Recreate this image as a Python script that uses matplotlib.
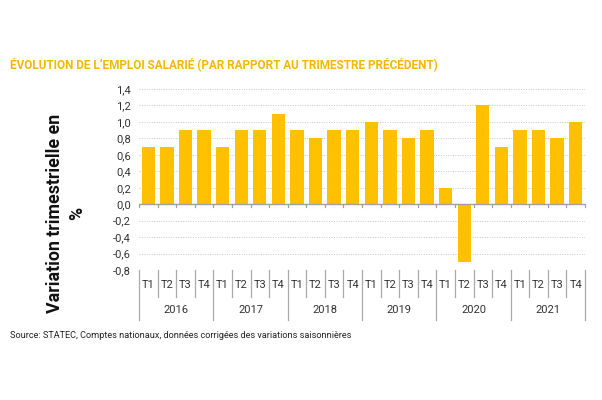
import matplotlib
matplotlib.use("Agg")
import matplotlib.pyplot as plt
import numpy as np

years = ["2016", "2017", "2018", "2019", "2020", "2021"]
quarters = ["T1", "T2", "T3", "T4"]
values = [0.7, 0.7, 0.9, 0.9,
          0.7, 0.9, 0.9, 1.1,
          0.9, 0.8, 0.9, 0.9,
          1.0, 0.9, 0.8, 0.9,
          0.2, -0.7, 1.2, 0.7,
          0.9, 0.9, 0.8, 1.0]
yticks = [-0.8, -0.6, -0.4, -0.2, 0.0, 0.2, 0.4, 0.6, 0.8, 1.0, 1.2, 1.4]

plt.rcParams['font.family'] = ['Roboto', 'DejaVu Sans']

fig = plt.figure(figsize=(6.02, 4.0), dpi=100)
ax = fig.add_axes([139/602, 1-270/400, (585-139)/602, (270-89)/400])

n = len(values)
x = np.arange(n)
ax.bar(x, values, width=0.72, color="#FFC000", zorder=3)
ax.set_xlim(-0.5, n-0.5)
ax.set_ylim(-0.8, 1.4)

for t in yticks[1:]:
    if abs(t) > 1e-9:
        ax.axhline(t, color="#C8C8C8", lw=0.7, ls=(0, (1, 1.5)), zorder=1)
ax.axhline(0, color="#A0A0A0", lw=1.0, zorder=4)
for b in np.arange(-0.5, n, 1.0):
    ax.plot([b, b], [0, -0.035], color="#A0A0A0", lw=0.9, zorder=4, clip_on=False)

for s in ax.spines.values():
    s.set_visible(False)
ax.set_xticks([])
ax.set_yticks(yticks)
ax.set_yticklabels([f"{t:.1f}".replace(".", ",").replace("-0,0", "0,0") for t in yticks],
                   fontsize=8, color="#333333")
ax.tick_params(axis="y", length=0, pad=6)

tr = ax.get_xaxis_transform()
for i, b in enumerate(np.arange(-0.5, n, 1.0)):
    bottom = -0.276 if i % 4 == 0 or i == n else -0.149
    ax.plot([b, b], [0, bottom], transform=tr, color="#AAAAAA", lw=0.9, clip_on=False)
for i in range(n):
    ax.text(i, -0.083, quarters[i % 4], transform=tr, ha="center", va="center",
            fontsize=8, color="#333333")
for j, yname in enumerate(years):
    ax.text(j*4 + 1.5, -0.221, yname, transform=tr, ha="center", va="center",
            fontsize=8, color="#333333")

fig.text(0.110, 1-213/400, "Variation trimestrielle en\n%", rotation=90,
         ha="center", va="center", multialignment="center",
         fontsize=12.8, fontweight="bold", color="#111111", linespacing=1.25)

fig.text(10/602, 1-65/400, "ÉVOLUTION DE L’EMPLOI SALARIÉ (PAR RAPPORT AU TRIMESTRE PRÉCÉDENT)",
         ha="left", va="center", fontsize=8.45, fontweight="bold", color="#F5B700")
fig.text(10/602, 1-336/400, "Source: STATEC, Comptes nationaux, données corrigées des variations saisonnières",
         ha="left", va="center", fontsize=6.55, color="#222222")

fig.savefig("out.png", dpi=100)
